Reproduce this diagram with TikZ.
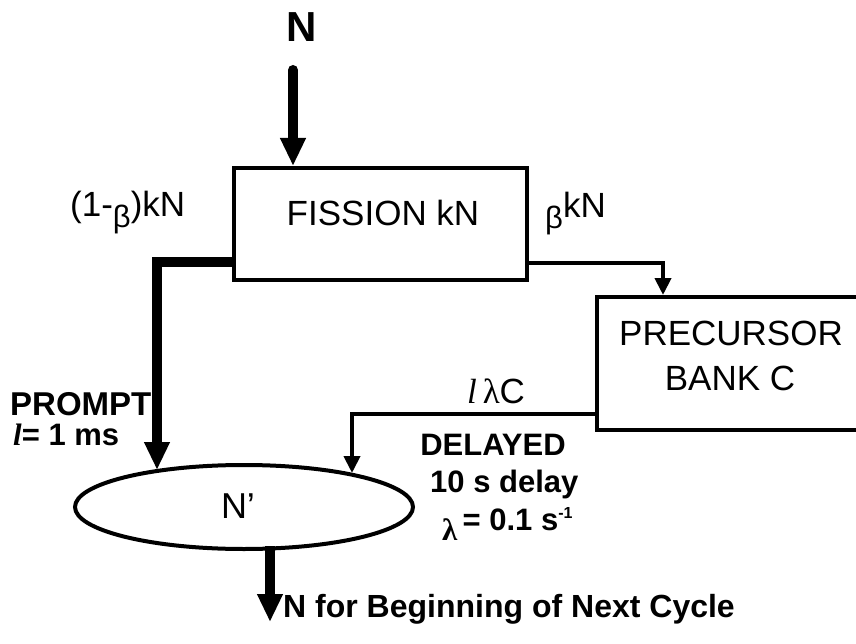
\documentclass[tikz,border=0pt]{standalone}
\usepackage{fontspec}
\setmainfont{Liberation Sans}
\newfontfamily\timesfont{Liberation Serif}
\usetikzlibrary{arrows.meta,shapes.geometric}
\begin{document}
\begin{tikzpicture}[x=1pt,y=-1pt,
  boxst/.style={draw, line width=4pt, inner sep=0pt, outer sep=0pt},
  bigarrow/.style={line width=10pt, -{Triangle[length=28pt,width=24pt]}},
  thinarrow/.style={line width=4pt, -{Triangle[length=17pt,width=16pt]}},
  lbl/.style={inner sep=0pt, anchor=base west},
  ctr/.style={inner sep=0pt, anchor=base}]
\useasboundingbox (0,0) rectangle (856,644);
\fill[white] (0,0) rectangle (856,644);

% nodes
\node[boxst, minimum width=293pt, minimum height=112pt] (fission) at (380.5,224) {};
\node[boxst, minimum width=265pt, minimum height=133pt] (precursor) at (729.5,363.5) {};
\node[boxst, draw, ellipse, minimum width=338pt, minimum height=84pt] (nprime) at (244,507) {};

% texts
\node[ctr, font=\fontsize{42}{42}\selectfont\bfseries] (ntop) at (302,42) {N};
\node[ctr, font=\fontsize{35}{35}\selectfont] (fisstxt) at (383,226) {FISSION kN};
\node[ctr, font=\fontsize{35}{35}\selectfont] (prectxt1) at (731,345) {PRECURSOR};
\node[ctr, font=\fontsize{35}{35}\selectfont] (prectxt2) at (730,390) {BANK C};
\node[ctr, font=\fontsize{36}{36}\selectfont] (nptxt) at (238,518) {N'};
\node[lbl, font=\fontsize{35}{35}\selectfont] (omb) at (70,217) {(1-\raisebox{-11pt}{\fontsize{31}{31}\selectfont β})kN};
\node[lbl, font=\fontsize{35}{35}\selectfont] (bkn) at (545,218) {\raisebox{-11pt}{\fontsize{31}{31}\selectfont β}kN};
\node[lbl, font=\fontsize{33}{33}\selectfont\bfseries] (prompt) at (10,415) {PROMPT};
\node[lbl, font=\fontsize{31}{31}\selectfont\bfseries] (ell) at (13,445) {{\timesfont\itshape l}= 1 ms};
\node[lbl, font=\fontsize{35}{35}\selectfont] (lamc) at (467,403) {{\timesfont\itshape l}\,{\timesfont λ}C};
\node[ctr, font=\fontsize{31}{31}\selectfont\bfseries] (delayed) at (493,455) {DELAYED};
\node[lbl, font=\fontsize{31}{31}\selectfont\bfseries] (tens) at (430,492) {10 s delay};
\node[lbl, font=\fontsize{31}{31}\selectfont\bfseries] (lam) at (442,530) {\raisebox{-10pt}{\timesfont λ}\,= 0.1 s\raisebox{12pt}{\fontsize{16}{16}\selectfont -1}};
\node[lbl, font=\fontsize{32}{32}\selectfont\bfseries] (nnext) at (283,617) {N for Beginning of Next Cycle};

% coordinates
\coordinate (nstart) at (293,70);
\coordinate (ptip) at (157,470);
\coordinate (dtip) at (352,473);
\coordinate (nend) at (270,622);

% connectors
\draw[bigarrow, line cap=round] (nstart) -- ([xshift=59pt,yshift=2pt]fission.north west);
\draw[bigarrow] ([yshift=18pt]fission.south west) -| (ptip);
\draw[thinarrow] ([yshift=17pt]fission.south east) -| ([xshift=66pt,yshift=2pt]precursor.north west);
\draw[thinarrow] ([yshift=16pt]precursor.south west) -| (dtip);
\draw[bigarrow] ([xshift=26pt,yshift=3pt]nprime.south) -- (nend);
\end{tikzpicture}
\end{document}
